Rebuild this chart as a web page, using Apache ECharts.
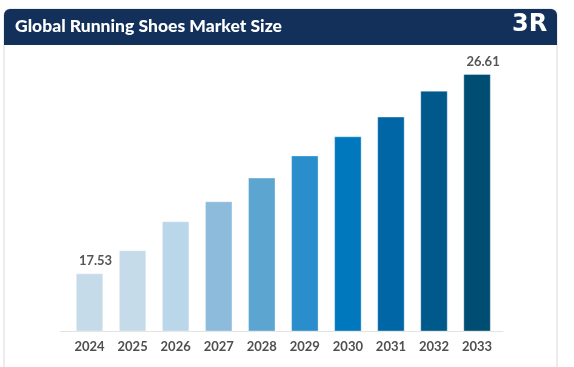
<!DOCTYPE html>
<html>
<head>
<meta charset="utf-8">
<script src="https://cdn.jsdelivr.net/npm/echarts@6/dist/echarts.min.js"></script>
<style>html,body{margin:0;padding:0;background:#fff;}#c{width:574px;height:367px;}</style>
</head>
<body>
<div id="c"></div>
<script>
var title = 'Global Running Shoes Market Size';
var years = ['2024','2025','2026','2027','2028','2029','2030','2031','2032','2033'];
var values = [17.53, 18.58, 19.90, 20.81, 21.89, 22.90, 23.77, 24.67, 25.85, 26.61];
var barColors = ['#c5dbe9','#c5dbe9','#bad7e9','#8cbbdb','#5ca5d0','#298ecb','#0078be','#0066a5','#00598b','#004d74'];
var labelled = [0, 9];

var chart = echarts.init(document.getElementById('c'), null, {renderer: 'canvas'});
chart.setOption({
  animation: false,
  backgroundColor: '#fff',
  graphic: [
    {type: 'rect', z: 0, shape: {x: 4, y: 9, width: 553, height: 400, r: 6}, style: {fill: '#fff', stroke: '#d9d9d9', lineWidth: 1}},
    {type: 'rect', z: 1, shape: {x: 4, y: 9, width: 553, height: 36, r: [6, 6, 0, 0]}, style: {fill: '#12305a'}},
    {type: 'text', z: 2, left: 15, top: 17, style: {text: title, fill: '#fff', font: '900 17.5px Lato'}},
    {type: 'text', z: 2, left: 512, top: 13, style: {text: '3R', fill: '#fff', font: 'bold 24px "DejaVu Sans"'}}
  ],
  grid: [
    {left: 68, right: 75.4, top: 74, bottom: 36},
    {left: 60, right: 71, top: 74, bottom: 36}
  ],
  xAxis: [
    {type: 'category', gridIndex: 0, data: years,
     axisLine: {show: false}, axisTick: {show: false},
     axisLabel: {margin: 9, color: '#4f4f4f', fontFamily: 'Lato', fontWeight: 'bold', fontSize: 13}},
    {type: 'value', gridIndex: 1, min: 0, max: 1, splitLine: {show: false},
     axisLine: {show: true, onZero: false, lineStyle: {color: '#e3e3e3', width: 1}},
     axisTick: {show: false}, axisLabel: {show: false}}
  ],
  yAxis: [
    {type: 'value', gridIndex: 0, min: 14.9, max: 26.61, show: false, splitLine: {show: false}},
    {type: 'value', gridIndex: 1, show: false, splitLine: {show: false}}
  ],
  series: [{
    type: 'bar', xAxisIndex: 0, yAxisIndex: 0,
    barWidth: 27.5,
    data: values.map(function (v, i) {
      return {
        value: v,
        itemStyle: {color: barColors[i], borderColor: 'rgba(255,255,255,0.35)', borderWidth: 1},
        label: {show: labelled.indexOf(i) >= 0}
      };
    }),
    label: {position: 'top', distance: 6, offset: [6, 0], color: '#555', fontFamily: 'Lato', fontWeight: 'bold', fontSize: 13,
      formatter: function (p) { return p.value.toFixed(2); }}
  }]
});
</script>
</body>
</html>
